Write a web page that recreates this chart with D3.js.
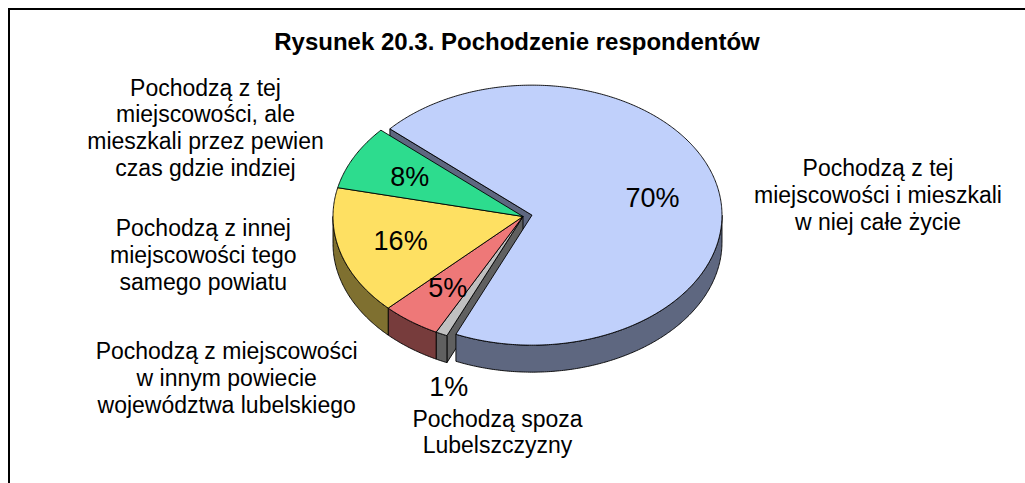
<!DOCTYPE html>
<html>
<head>
<meta charset="utf-8">
<script src="https://cdn.jsdelivr.net/npm/d3@7"></script>
<style>
  html, body { margin: 0; padding: 0; background: #fff; }
  svg { display: block; font-family: "Liberation Sans", Arial, sans-serif; }
</style>
</head>
<body>
<svg id="chart" width="1025" height="483"></svg>
<script>
// ---- data ----
const chartTitle = "Rysunek 20.3. Pochodzenie respondentów";
const categories = [
  "Pochodzą z tej miejscowości i mieszkali w niej całe życie",
  "Pochodzą spoza Lubelszczyzny",
  "Pochodzą z miejscowości w innym powiecie województwa lubelskiego",
  "Pochodzą z innej miejscowości tego samego powiatu",
  "Pochodzą z tej miejscowości, ale mieszkali przez pewien czas gdzie indziej"
];
const values = [70, 1, 5, 16, 8];
const categoryLines = [
  ["Pochodzą z tej", "miejscowości i mieszkali", "w niej całe życie"],
  ["Pochodzą spoza", "Lubelszczyzny"],
  ["Pochodzą z miejscowości", "w innym powiecie", "województwa lubelskiego"],
  ["Pochodzą z innej", "miejscowości tego", "samego powiatu"],
  ["Pochodzą z tej", "miejscowości, ale", "mieszkali przez pewien", "czas gdzie indziej"]
];

// ---- styling / layout ----
const topColors  = ["#C0D0FB", "#C0C0C0", "#EE7878", "#FEE062", "#2DDC8E"];
const sideColors = ["#5E6780", "#606060", "#773C3C", "#7F7030", "#16704A"];
const explodeBy  = [9.2, 0, 0, 0, 0];
const geo = { cx: 523, cy: 216.5, rx: 190, ry: 130, depth: 27 };
const firstAngle = -48.4 * Math.PI / 180;
// category label anchors: [centre x, first baseline]
const labelAnchors = [[878, 176], [497.5, 426.5], [226.7, 359.3], [203.3, 236], [205.5, 95.5]];
const lineHeight = 26.8;

const svg = d3.select("#chart");

// frame
svg.append("rect")
  .attr("x", 9).attr("y", 9).attr("width", 1040).attr("height", 500)
  .attr("fill", "none").attr("stroke", "#000").attr("stroke-width", 2);

// title
svg.append("text")
  .attr("x", 517).attr("y", 50)
  .attr("text-anchor", "middle")
  .attr("font-weight", "bold").attr("font-size", 24)
  .text(chartTitle);

const pie = d3.pie().sort(null).startAngle(firstAngle).endAngle(firstAngle + 2 * Math.PI);
const arcs = pie(values).map((d, i) => {
  const mid = (d.startAngle + d.endAngle) / 2;
  const e = explodeBy[i];
  return Object.assign(d, {
    i, mid,
    ox: e * Math.sin(mid),
    oy: -e * Math.cos(mid) * geo.ry / geo.rx
  });
});

// point on the (tilted) pie rim
const P = (t, d, dz = 0) => [geo.cx + d.ox + geo.rx * Math.sin(t), geo.cy + d.oy - geo.ry * Math.cos(t) + dz];
const apex = (d, dz = 0) => [geo.cx + d.ox, geo.cy + d.oy + dz];
const rim = (a, b, d, dz) => {
  const n = Math.max(2, Math.ceil(Math.abs(b - a) / 0.01));
  return d3.range(n + 1).map(k => P(a + (b - a) * k / n, d, dz));
};
const line = d3.line();
const faceStyle = sel => sel.attr("stroke", "#000").attr("stroke-width", 0.9).attr("stroke-linejoin", "round");

const g = svg.append("g");

// radial cut faces visible next to an exploded slice
const n = arcs.length;
arcs.forEach((d, i) => {
  const prev = arcs[(i - 1 + n) % n], next = arcs[(i + 1) % n];
  const sides = [];
  if (Math.sin(d.startAngle) < 0 && (explodeBy[i] || explodeBy[prev.i])) sides.push(d.startAngle);
  if (Math.sin(d.endAngle) > 0 && (explodeBy[i] || explodeBy[next.i])) sides.push(d.endAngle);
  sides.forEach(t => {
    g.append("path")
      .attr("d", line([apex(d), P(t, d), P(t, d, geo.depth), apex(d, geo.depth)]) + "Z")
      .attr("fill", sideColors[i]).call(faceStyle);
  });
});

// outer walls on the front half of the rim
arcs.forEach((d, i) => {
  for (let k = -1; k <= 1; k++) {
    const lo = Math.max(d.startAngle, Math.PI / 2 + 2 * Math.PI * k);
    const hi = Math.min(d.endAngle, 3 * Math.PI / 2 + 2 * Math.PI * k);
    if (hi - lo > 1e-4) {
      const pts = rim(lo, hi, d, 0).concat(rim(hi, lo, d, geo.depth));
      g.append("path").attr("d", line(pts) + "Z")
        .attr("fill", sideColors[i]).call(faceStyle);
    }
  }
});

// top faces
arcs.forEach((d, i) => {
  const pts = [apex(d)].concat(rim(d.startAngle, d.endAngle, d, 0));
  g.append("path").attr("d", line(pts) + "Z")
    .attr("fill", topColors[i]).call(faceStyle);
});

// value labels
arcs.forEach((d, i) => {
  const span = d.endAngle - d.startAngle;
  let x, y;
  if (span > 0.15) {
    const r = explodeBy[i] ? 0.65 : 0.67;
    x = geo.cx + d.ox + r * geo.rx * Math.sin(d.mid);
    y = geo.cy + d.oy - r * geo.ry * Math.cos(d.mid);
  } else {
    x = geo.cx + d.ox + 0.91 * geo.rx * Math.sin(d.mid);
    y = geo.cy + d.oy - geo.ry * Math.cos(d.mid) + geo.depth + 25;
  }
  svg.append("text")
    .attr("x", x).attr("y", y).attr("dy", "0.36em")
    .attr("text-anchor", "middle").attr("font-size", 27)
    .text(values[i] + "%");
});

// category labels
categoryLines.forEach((lines, i) => {
  const t = svg.append("text")
    .attr("text-anchor", "middle").attr("font-size", 23)
    .attr("aria-label", categories[i]);
  lines.forEach((s, k) => {
    t.append("tspan")
      .attr("x", labelAnchors[i][0])
      .attr("y", labelAnchors[i][1] + k * lineHeight)
      .text(s);
  });
});
</script>
</body>
</html>
